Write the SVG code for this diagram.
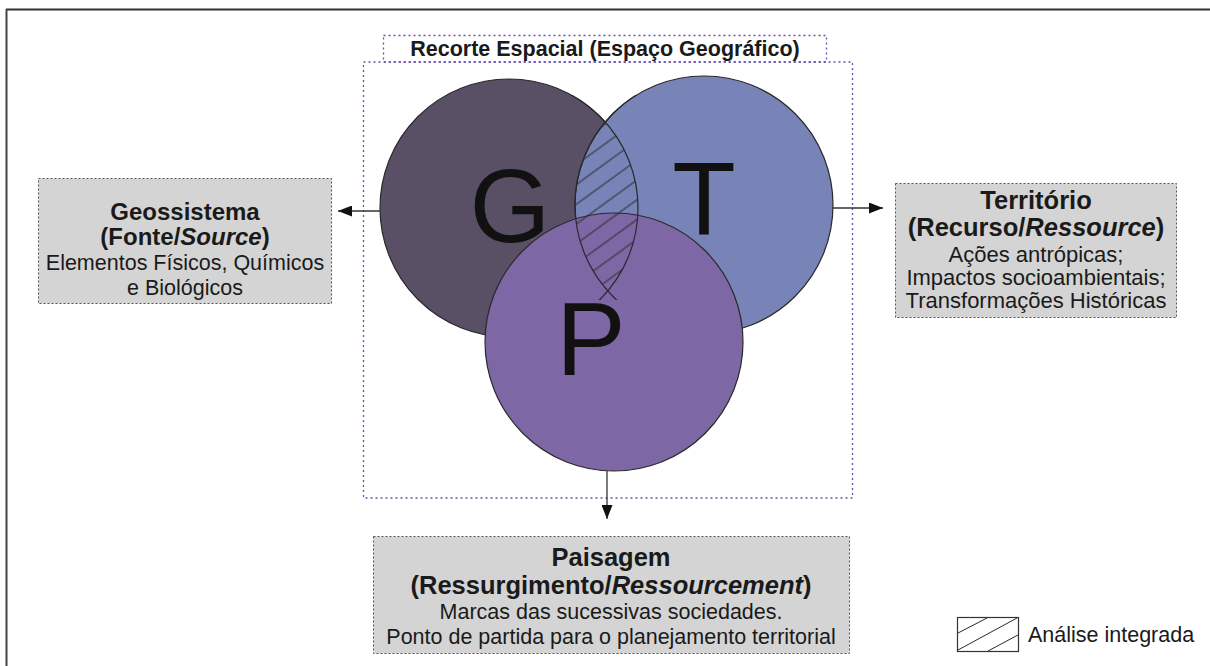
<svg xmlns="http://www.w3.org/2000/svg" width="1210" height="666" viewBox="0 0 1210 666">
  <style>
    .txt { font-family: "Liberation Sans", Arial, sans-serif; fill: #1a1a1a; text-anchor: middle; }
    .b { font-weight: bold; }
    .box { fill: #d4d4d4; stroke: #555; stroke-width: 1; stroke-dasharray: 2 2; }
    .purp { fill: none; stroke: #6a4fb0; stroke-width: 1.3; stroke-dasharray: 2 3; }
    .circ { stroke: #2a2a2a; stroke-width: 1.2; }
    .conn { stroke: #333; stroke-width: 1.3; fill: none; marker-end: url(#ah); }
    .hl { stroke: #2a2a2a; stroke-width: 1; }
  </style>
  <defs>
    <marker id="ah" markerUnits="userSpaceOnUse" markerWidth="14" markerHeight="11" refX="14" refY="5.5" orient="auto">
      <path d="M0,0 L14,5.5 L0,11 z" fill="#111"/>
    </marker>
    <pattern id="hatch" patternUnits="userSpaceOnUse" width="20" height="16" patternTransform="rotate(-36)">
      <line x1="-5" y1="8" x2="25" y2="8" stroke="#2a2a2a" stroke-width="1"/>
    </pattern>
    <clipPath id="clipG"><circle cx="509" cy="208" r="129"/></clipPath>
    <clipPath id="clipT"><circle cx="704" cy="205" r="129"/></clipPath>
    <clipPath id="clipZone"><rect x="555" y="95" width="110" height="205"/></clipPath>
  </defs>

  <rect width="1210" height="666" fill="#ffffff"/>
  <g id="frame">
    <line x1="6" y1="9.5" x2="1210" y2="9.5" stroke="#333" stroke-width="2"/>
    <line x1="6.5" y1="9" x2="6.5" y2="666" stroke="#444" stroke-width="2"/>
  </g>

  <g id="recorte">
    <rect class="purp" x="383.5" y="35.5" width="443" height="26.5"/>
    <rect class="purp" x="363.5" y="62" width="489" height="436"/>
    <text class="txt b" x="605" y="56" font-size="21.5">Recorte Espacial (Espaço Geográfico)</text>
  </g>

  <g id="circle-G">
    <circle class="circ" cx="509" cy="208" r="129" fill="#595066"/>
  </g>
  <g id="circle-T">
    <circle class="circ" cx="704" cy="205" r="129" fill="#7883b7"/>
  </g>
  <g id="circle-P">
    <circle class="circ" cx="614" cy="342" r="129" fill="#7e67a5"/>
  </g>

  <g id="integrated-lens">
    <g clip-path="url(#clipG)">
      <rect x="560" y="100" width="100" height="200" fill="url(#hatch)" clip-path="url(#clipT)"/>
    </g>
    <g clip-path="url(#clipZone)" fill="none" class="circ">
      <circle cx="509" cy="208" r="129"/>
      <circle cx="704" cy="205" r="129"/>
    </g>
  </g>

  <g id="letters" font-family="Liberation Sans, Arial, sans-serif" fill="#111" text-anchor="middle">
    <text x="510" y="242" font-size="104">G</text>
    <text x="704" y="235" font-size="104">T</text>
    <text x="591" y="375" font-size="104">P</text>
  </g>

  <g id="connectors">
    <line class="conn" x1="380" y1="211" x2="338" y2="211"/>
    <line class="conn" x1="833" y1="208" x2="883" y2="208"/>
    <line class="conn" x1="607" y1="471" x2="607" y2="519"/>
  </g>

  <g id="node-geossistema">
    <rect class="box" x="38.5" y="178.5" width="293" height="125"/>
    <text class="txt b" x="185" y="220" font-size="24">Geossistema</text>
    <text class="txt b" x="185" y="245" font-size="24">(Fonte/<tspan font-style="italic">Source</tspan>)</text>
    <text class="txt" x="185" y="270" font-size="21.5">Elementos Físicos, Químicos</text>
    <text class="txt" x="185" y="295" font-size="21.5">e Biológicos</text>
  </g>

  <g id="node-territorio">
    <rect class="box" x="895.5" y="183.5" width="281" height="134"/>
    <text class="txt b" x="1036" y="209" font-size="25.5">Território</text>
    <text class="txt b" x="1036" y="236" font-size="25.5">(Recurso/<tspan font-style="italic">Ressource</tspan>)</text>
    <text class="txt" x="1036" y="262" font-size="22">Ações antrópicas;</text>
    <text class="txt" x="1036" y="285" font-size="22">Impactos socioambientais;</text>
    <text class="txt" x="1036" y="308" font-size="22">Transformações Históricas</text>
  </g>

  <g id="node-paisagem">
    <rect class="box" x="373.5" y="536.5" width="476" height="117"/>
    <text class="txt b" x="611" y="566" font-size="25.5">Paisagem</text>
    <text class="txt b" x="611" y="594" font-size="25.5">(Ressurgimento/<tspan font-style="italic">Ressourcement</tspan>)</text>
    <text class="txt" x="611" y="619" font-size="21.5">Marcas das sucessivas sociedades.</text>
    <text class="txt" x="611" y="644" font-size="21.5">Ponto de partida para o planejamento territorial</text>
  </g>

  <g id="legend">
    <rect x="957.5" y="617.5" width="61" height="34" fill="#fff" stroke="#333" stroke-width="1.2"/>
    <line class="hl" x1="958" y1="633" x2="987" y2="618"/>
    <line class="hl" x1="958" y1="650" x2="1017" y2="618"/>
    <line class="hl" x1="988" y1="651" x2="1018" y2="635"/>
    <text class="txt" x="1028" y="642" font-size="21.5" style="text-anchor:start">Análise integrada</text>
  </g>
</svg>
